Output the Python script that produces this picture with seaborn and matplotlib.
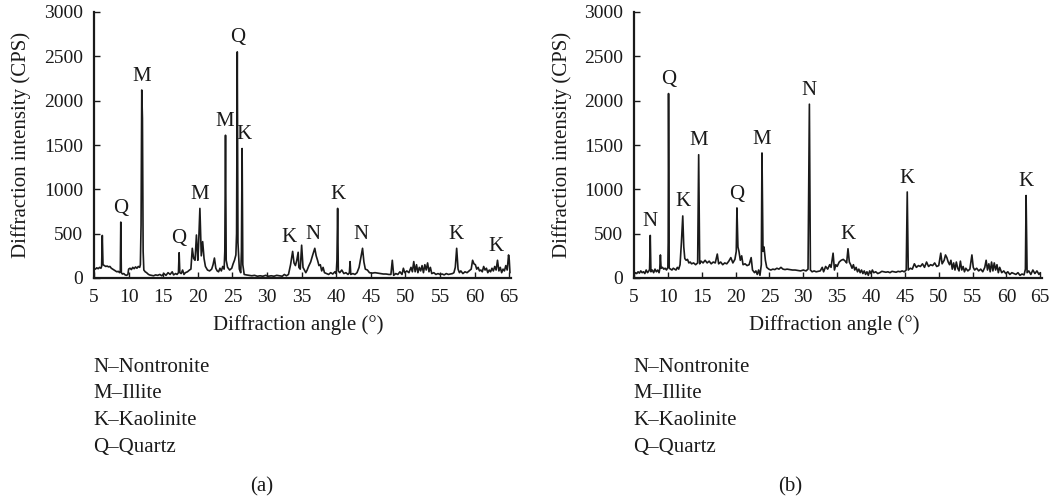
import numpy as np
import pandas as pd
import matplotlib
matplotlib.use("Agg")
import matplotlib.pyplot as plt
import seaborn as sns

# ---------------- data ----------------
angle_a = [5.0, 5.2, 5.4, 5.6, 5.8, 6.0, 6.1, 6.2, 6.3, 6.5, 6.7, 6.9, 7.1, 7.3, 7.5, 7.7, 7.9, 8.1, 8.3, 8.5,
           8.7, 8.8, 8.87, 8.95, 9.1, 9.3, 9.5, 9.7, 9.9, 10.0, 10.2, 10.4, 10.6, 10.8, 11.0, 11.2, 11.4, 11.6, 11.7, 11.8,
           11.9, 12.0, 12.1, 12.2, 12.4, 12.6, 12.8, 13.0, 13.3, 13.6, 13.9, 14.2, 14.5, 14.8, 15.1, 15.4, 15.7, 16.0, 16.3, 16.5,
           16.8, 17.0, 17.2, 17.3, 17.4, 17.6, 17.8, 18.0, 18.2, 18.5, 18.8, 19.0, 19.2, 19.4, 19.6, 19.8, 20.0, 20.1, 20.3, 20.5,
           20.7, 20.9, 21.1, 21.4, 21.7, 22.0, 22.2, 22.4, 22.6, 22.8, 23.0, 23.2, 23.4, 23.6, 23.8, 23.9, 24.0, 24.1, 24.3, 24.6,
           24.9, 25.1, 25.3, 25.5, 25.6, 25.7, 25.8, 26.0, 26.2, 26.3, 26.4, 26.5, 26.7, 27.0, 27.4, 27.8, 28.2, 28.6, 29.0, 29.4,
           29.8, 30.2, 30.6, 31.0, 31.4, 31.8, 32.2, 32.5, 32.8, 33.1, 33.4, 33.7, 33.9, 34.1, 34.3, 34.5, 34.6, 34.8, 35.0, 35.2,
           35.4, 35.6, 35.8, 36.0, 36.3, 36.6, 36.9, 37.1, 37.3, 37.5, 37.7, 37.9, 38.1, 38.3, 38.6, 38.9, 39.2, 39.5, 39.8, 40.0,
           40.1, 40.2, 40.3, 40.5, 40.8, 41.1, 41.4, 41.7, 41.9, 42.0, 42.1, 42.4, 42.7, 43.0, 43.3, 43.6, 43.8, 44.0, 44.2, 44.5,
           44.8, 45.2, 45.6, 46.0, 46.4, 46.8, 47.2, 47.6, 47.9, 48.1, 48.3, 48.6, 48.9, 49.2, 49.5, 49.7, 49.9, 50.2, 50.5, 50.8,
           51.0, 51.2, 51.4, 51.6, 51.8, 52.0, 52.2, 52.4, 52.6, 52.8, 53.0, 53.2, 53.4, 53.6, 53.8, 54.1, 54.4, 54.7, 55.0, 55.3,
           55.6, 55.9, 56.2, 56.5, 56.8, 57.0, 57.2, 57.4, 57.6, 57.8, 58.0, 58.3, 58.6, 58.9, 59.2, 59.5, 59.7, 59.9, 60.1, 60.3,
           60.5, 60.7, 60.9, 61.1, 61.3, 61.5, 61.7, 61.9, 62.1, 62.3, 62.5, 62.7, 62.9, 63.1, 63.3, 63.5, 63.7, 63.9, 64.1, 64.3,
           64.5, 64.7, 64.9, 65.0, 65.1]
cps_a = [110, 100, 115, 105, 120, 110, 130, 480, 150, 140, 130, 135, 125, 130, 110, 100, 90, 80, 70, 75,
         60, 70, 630, 60, 45, 50, 35, 30, 40, 100, 110, 95, 120, 105, 125, 110, 130, 120, 150, 600,
         2120, 1800, 300, 90, 70, 60, 45, 35, 30, 25, 35, 30, 40, 25, 50, 30, 60, 40, 70, 35,
         50, 40, 60, 285, 60, 50, 90, 40, 60, 70, 90, 100, 335, 220, 200, 485, 200, 350, 785, 250,
         410, 220, 130, 90, 80, 100, 150, 225, 110, 80, 70, 110, 80, 130, 100, 300, 1610, 200, 120, 90,
         110, 160, 200, 260, 500, 2550, 400, 100, 60, 300, 1460, 150, 40, 35, 30, 25, 30, 20, 25, 20,
         30, 20, 25, 20, 30, 25, 20, 40, 25, 40, 150, 300, 170, 140, 200, 290, 120, 100, 370, 120,
         90, 60, 90, 130, 180, 260, 335, 250, 200, 140, 150, 80, 120, 60, 50, 40, 60, 45, 70, 50,
         200, 785, 80, 60, 90, 50, 60, 40, 60, 185, 40, 50, 40, 60, 120, 250, 335, 180, 100, 90,
         60, 55, 60, 55, 50, 45, 45, 40, 40, 200, 30, 50, 40, 70, 40, 110, 60, 80, 60, 120,
         70, 185, 70, 150, 60, 120, 80, 140, 60, 150, 90, 170, 70, 120, 50, 60, 40, 50, 40, 45,
         35, 50, 40, 45, 50, 60, 120, 335, 100, 60, 80, 50, 70, 60, 80, 100, 200, 160, 150, 100,
         120, 80, 90, 70, 130, 90, 110, 60, 90, 70, 110, 80, 130, 90, 200, 80, 120, 60, 100, 80,
         140, 90, 260, 200, 60]

angle_b = [5.0, 5.2, 5.4, 5.6, 5.8, 6.0, 6.2, 6.4, 6.6, 6.8, 7.0, 7.2, 7.3, 7.4, 7.5, 7.7, 7.9, 8.1, 8.3, 8.5,
           8.7, 8.8, 8.9, 9.0, 9.2, 9.4, 9.6, 9.8, 10.0, 10.05, 10.1, 10.2, 10.4, 10.6, 10.8, 11.0, 11.2, 11.4, 11.6, 11.8,
           12.0, 12.2, 12.35, 12.5, 12.7, 12.9, 13.1, 13.3, 13.5, 13.8, 14.1, 14.4, 14.55, 14.7, 14.9, 15.2, 15.5, 15.8, 16.1, 16.4,
           16.7, 17.0, 17.3, 17.5, 17.8, 18.1, 18.4, 18.7, 19.0, 19.3, 19.6, 19.9, 20.1, 20.2, 20.35, 20.5, 20.7, 20.9, 21.1, 21.4,
           21.7, 22.0, 22.3, 22.5, 22.8, 23.0, 23.2, 23.4, 23.6, 23.8, 23.9, 24.05, 24.2, 24.4, 24.6, 24.9, 25.2, 25.5, 25.8, 26.1,
           26.4, 26.7, 27.0, 27.3, 27.6, 28.0, 28.4, 28.8, 29.2, 29.6, 30.0, 30.4, 30.7, 30.9, 31.05, 31.3, 31.6, 31.9, 32.2, 32.5,
           32.8, 33.0, 33.3, 33.6, 33.9, 34.1, 34.4, 34.6, 34.8, 35.0, 35.3, 35.6, 35.9, 36.2, 36.4, 36.6, 36.8, 37.0, 37.2, 37.4,
           37.6, 37.8, 38.0, 38.2, 38.4, 38.6, 38.8, 39.0, 39.2, 39.4, 39.6, 39.8, 40.0, 40.2, 40.4, 40.7, 41.0, 41.3, 41.6, 41.9,
           42.2, 42.5, 42.8, 43.1, 43.4, 43.7, 44.0, 44.3, 44.6, 44.9, 45.2, 45.35, 45.5, 45.8, 46.1, 46.4, 46.7, 47.0, 47.3, 47.6,
           47.9, 48.2, 48.5, 48.8, 49.1, 49.4, 49.7, 50.0, 50.3, 50.5, 50.8, 51.0, 51.2, 51.4, 51.6, 51.8, 52.0, 52.2, 52.4, 52.6,
           52.8, 53.0, 53.2, 53.4, 53.6, 53.8, 54.0, 54.3, 54.6, 54.9, 55.1, 55.3, 55.6, 55.9, 56.2, 56.5, 56.8, 57.0, 57.2, 57.4,
           57.6, 57.8, 58.0, 58.2, 58.4, 58.6, 58.8, 59.0, 59.3, 59.6, 59.9, 60.2, 60.5, 60.8, 61.1, 61.4, 61.7, 62.0, 62.3, 62.6,
           62.8, 62.9, 63.05, 63.3, 63.6, 63.9, 64.2, 64.5, 64.8, 65.0]
cps_b = [40, 60, 50, 70, 55, 80, 60, 70, 50, 90, 60, 80, 100, 480, 70, 90, 60, 100, 70, 90,
         60, 100, 260, 110, 120, 100, 110, 90, 120, 400, 2080, 110, 100, 90, 110, 100, 90, 120, 100, 150,
         400, 700, 350, 220, 200, 210, 170, 180, 160, 170, 150, 170, 1390, 160, 190, 170, 200, 170, 190, 160,
         180, 170, 270, 160, 180, 150, 170, 160, 190, 230, 170, 210, 300, 790, 350, 300, 200, 250, 150, 160,
         140, 150, 230, 90, 60, 80, 40, 90, 30, 150, 1410, 300, 350, 200, 120, 100, 90, 100, 95, 110,
         100, 120, 100, 95, 100, 95, 90, 90, 85, 80, 90, 80, 100, 1960, 90, 70, 80, 70, 75, 80,
         120, 70, 130, 100, 150, 120, 280, 90, 150, 130, 180, 200, 210, 190, 170, 330, 180, 150, 110, 150,
         90, 120, 70, 100, 60, 90, 50, 80, 40, 70, 30, 80, 50, 90, 60, 70, 50, 60, 75, 70,
         65, 70, 60, 75, 70, 65, 75, 70, 80, 70, 90, 970, 90, 110, 100, 160, 120, 140, 130, 160,
         120, 180, 130, 150, 140, 170, 130, 140, 280, 160, 200, 260, 230, 180, 150, 200, 100, 170, 90, 180,
         110, 80, 190, 90, 130, 70, 110, 80, 100, 260, 120, 90, 110, 80, 100, 70, 120, 200, 90, 160,
         70, 180, 80, 170, 90, 150, 60, 120, 60, 80, 50, 70, 40, 60, 50, 40, 60, 30, 45, 35,
         100, 930, 60, 80, 40, 90, 50, 80, 40, 60]

# peak annotations
label_angle_a = [8.9, 11.9, 17.3, 20.2, 23.9, 25.7, 26.6, 33.2, 36.7, 40.2, 43.6, 57.3, 63.1]
label_text_a = ["Q", "M", "Q", "M", "M", "Q", "K", "K", "N", "K", "N", "K", "K"]
label_angle_b = [7.4, 10.1, 12.2, 14.55, 20.2, 23.9, 30.9, 36.6, 45.35, 62.9]
label_text_b = ["N", "Q", "K", "M", "Q", "M", "N", "K", "K", "K"]

legend_lines = ["N\u2013Nontronite", "M\u2013Illite", "K\u2013Kaolinite", "Q\u2013Quartz"]
x_ticks = [5, 10, 15, 20, 25, 30, 35, 40, 45, 50, 55, 60, 65]
y_ticks = [0, 500, 1000, 1500, 2000, 2500, 3000]
panel_tags = ["(a)", "(b)"]

# ---------------- style ----------------
sns.set_theme(style="ticks")
plt.rcParams['font.family'] = ['Liberation Serif', 'DejaVu Serif']
FS_TICK = 14
FS = 15
INK = "#1a1a1a"
W, H = 1063, 500
fig = plt.figure(figsize=(W / 100, H / 100), dpi=100)

def px_rect(x0, x1, ytop, ybot):
    return [x0 / W, 1 - ybot / H, (x1 - x0) / W, (ybot - ytop) / H]

axes = [fig.add_axes(px_rect(94, 511, 12, 278)), fig.add_axes(px_rect(634, 1042, 12, 278))]
datasets = [(angle_a, cps_a, label_angle_a, label_text_a), (angle_b, cps_b, label_angle_b, label_text_b)]

for ax, (ang, cps, la, lt) in zip(axes, datasets):
    df = pd.DataFrame({"angle": ang, "cps": cps})
    sns.lineplot(data=df, x="angle", y="cps", ax=ax, color=INK, lw=1.2,
                 estimator=None, sort=False)
    ax.set_xlim(5, 65.25)
    ax.set_ylim(0, 3000)
    ax.set_xticks(x_ticks)
    ax.set_yticks(y_ticks)
    ax.tick_params(direction="in", length=4, width=1, labelsize=FS_TICK, pad=8, colors=INK)
    for s in ["top", "right"]:
        ax.spines[s].set_visible(False)
    for s in ["left", "bottom"]:
        ax.spines[s].set_linewidth(1.6)
        ax.spines[s].set_color(INK)
    ax.set_xlabel("Diffraction angle (\u00b0)", fontsize=FS, color=INK)
    ax.set_ylabel("Diffraction intensity (CPS)", fontsize=FS, color=INK)
    ax.xaxis.set_label_coords(0.49, -0.14)
    ax.yaxis.set_label_coords(-0.152, 0.5)
    arr_a = np.array(ang)
    arr_c = np.array(cps)
    for a, t in zip(la, lt):
        m = (arr_a >= a - 0.5) & (arr_a <= a + 0.5)
        ytop = arr_c[m].max()
        ax.text(a, ytop + 50, t, ha="center", va="bottom", fontsize=FS, color=INK)

# legends and panel tags
for x0, tag, xt in [(93, panel_tags[0], 262), (633, panel_tags[1], 790)]:
    for i, line in enumerate(legend_lines):
        fig.text(x0 / W, 1 - (367 + i * 26.7) / H, line, ha="left", va="center",
                 fontsize=FS, color=INK)
    fig.text(xt / W, 1 - 487 / H, tag, ha="center", va="center", fontsize=FS, color=INK)

fig.savefig("out.png", dpi=100)
